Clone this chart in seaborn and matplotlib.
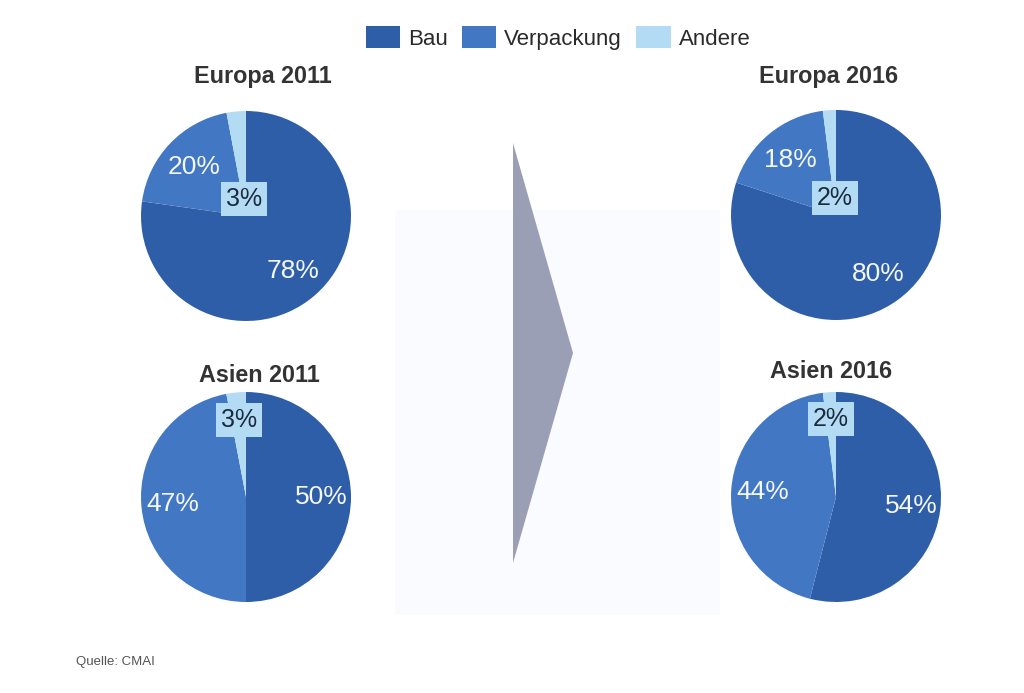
import numpy as np
import seaborn as sns
import matplotlib.pyplot as plt
from matplotlib.patches import Patch, Polygon, Rectangle

# ---------- DATA
categories = ["Bau", "Verpackung", "Andere"]
titles = ["Europa 2011", "Europa 2016", "Asien 2011", "Asien 2016"]
europa_2011 = [78, 20, 3]
europa_2016 = [80, 18, 2]
asien_2011 = [50, 47, 3]
asien_2016 = [54, 44, 2]
source = "Quelle: CMAI"

# ---------- STYLE
sns.set_theme(style="white")
plt.rcParams["font.family"] = ["Liberation Sans", "DejaVu Sans"]
palette = sns.color_palette(["#2f5ea8", "#4277c4", "#b3dcf4"])
W, H = 1024, 693

# pie centers (px), title positions (px), label radii
layout = [
    dict(c=(246, 216), t=(263, 77), lr=[0.69, 0.68, 0.16]),
    dict(c=(836, 215), t=(829, 76), lr=[0.69, 0.68, 0.16]),
    dict(c=(246, 497), t=(259, 375), lr=[0.72, 0.70, 0.74]),
    dict(c=(836, 497), t=(831, 371), lr=[0.72, 0.70, 0.74]),
]
R = 105

fig = plt.figure(figsize=(W / 100, H / 100), dpi=100)
fig.patch.set_facecolor("white")

# faint background panel and grey arrow
fig.patches.append(Rectangle((395 / W, 1 - 615 / H), 325 / W, 405 / H,
                             transform=fig.transFigure, facecolor="#f9fbfe",
                             edgecolor="none", zorder=0))
arrow = [(513, 143), (573, 353), (513, 563)]
fig.patches.append(Polygon([(x / W, 1 - y / H) for x, y in arrow], closed=True,
                           transform=fig.transFigure, facecolor="#9b9fb5",
                           edgecolor="none", zorder=1))

for values, title, lay in zip([europa_2011, europa_2016, asien_2011, asien_2016], titles, layout):
    cx, cy = lay["c"]
    ax = fig.add_axes([(cx - R) / W, 1 - (cy + R) / H, 2 * R / W, 2 * R / H])
    ax.pie(values, colors=palette, startangle=90, counterclock=False,
           radius=1, wedgeprops=dict(linewidth=0))
    ax.set_xlim(-1, 1)
    ax.set_ylim(-1, 1)
    ax.set_aspect("equal")
    ax.axis("off")

    # labels at mid-angle of each wedge
    fracs = np.array(values) / np.sum(values)
    start = 0.0
    for i, (v, f) in enumerate(zip(values, fracs)):
        mid = start + f * 180
        start += f * 360
        ang = np.deg2rad(90 - mid)
        x, y = lay["lr"][i] * np.cos(ang), lay["lr"][i] * np.sin(ang)
        if i == 2:
            ax.text(x, y, f"{v}%", ha="center", va="center", fontsize=18,
                    color="#1c2a3f", clip_on=False, zorder=5,
                    bbox=dict(boxstyle="square,pad=0.2", facecolor=palette[2],
                              edgecolor="none"))
        else:
            ax.text(x, y, f"{v}%", ha="center", va="center", fontsize=19,
                    color="#f4f7fb", zorder=5)

    tx, ty = lay["t"]
    fig.text(tx / W, 1 - ty / H, title, ha="center", va="center",
             fontsize=16.8, fontweight="bold", color="#333333")

# legend
handles = [Patch(facecolor=palette[i], edgecolor="none") for i in range(3)]
fig.legend(handles, categories, loc="center", bbox_to_anchor=(558 / W, 1 - 38 / H),
           ncol=3, frameon=False, fontsize=16, handlelength=1.55, handleheight=1.15,
           handletextpad=0.35, columnspacing=0.65, labelcolor="#2a2a2a")

fig.text(76 / W, 1 - 662 / H, source, ha="left", va="center", fontsize=9.5,
         color="#555555")

plt.savefig("out.png", dpi=100)
